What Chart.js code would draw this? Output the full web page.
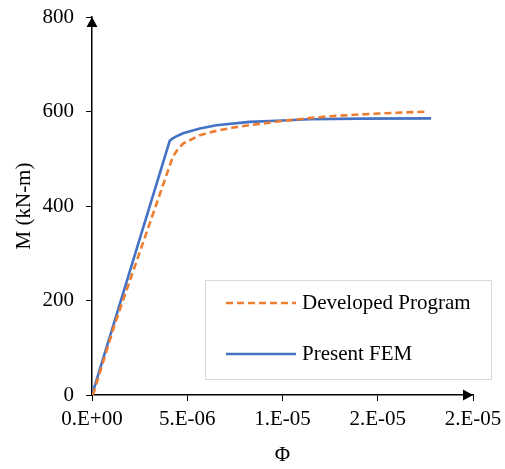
<!DOCTYPE html>
<html>
<head>
<meta charset="utf-8">
<script src="https://cdn.jsdelivr.net/npm/chart.js@4.4.0/dist/chart.umd.min.js"></script>
<style>
  html, body { margin: 0; padding: 0; background: #fff; }
  #wrap { width: 505px; height: 469px; }
</style>
</head>
<body>
<div id="wrap"><canvas id="mphi" width="505" height="469"></canvas></div>
<script>
// DATA
var xTickLabels = ['0.E+00', '5.E-06', '1.E-05', '2.E-05', '2.E-05'];
var yTicks = [0, 200, 400, 600, 800];

var devPhi = [0.05e-6, 1.18e-6, 4.24e-6, 4.5e-6, 4.78e-6, 5.66e-6, 6.53e-6, 7.4e-6, 8.28e-6, 1.0e-5, 1.14e-5, 1.25e-5, 1.42e-5, 1.6e-5, 1.756e-5];
var devM   = [0, 148, 504, 520, 532, 550, 559, 566, 571, 580, 586, 590, 594, 597.5, 599.5];

var femPhi = [0, 4.08e-6, 4.2e-6, 4.4e-6, 4.78e-6, 5.66e-6, 6.53e-6, 8.28e-6, 1.0e-5, 1.14e-5, 1.4e-5, 1.78e-5];
var femM   = [0, 538, 542, 547, 554, 564, 571, 578, 581, 583.5, 585, 585.5];

function toPoints(xs, ys){
    return xs.map(function(x, i){ return {x: x, y: ys[i]}; });
}

var FONT = "'Liberation Serif', 'Times New Roman', serif";

// ARROW HEADS ON AXES
var axisArrows = {
    id: 'axisArrows',
    afterDraw: function(chart){
        var ctx = chart.ctx, a = chart.chartArea;
        ctx.save();
        ctx.fillStyle = '#000';
        ctx.beginPath();
        ctx.moveTo(a.left, a.top);
        ctx.lineTo(a.left - 5.5, a.top + 10);
        ctx.lineTo(a.left + 5.5, a.top + 10);
        ctx.closePath();
        ctx.fill();
        ctx.beginPath();
        ctx.moveTo(a.right, a.bottom);
        ctx.lineTo(a.right - 10, a.bottom - 5.5);
        ctx.lineTo(a.right - 10, a.bottom + 5.5);
        ctx.closePath();
        ctx.fill();
        ctx.restore();
    }
};

// LEGEND BOX INSIDE THE PLOT
var boxLegend = {
    id: 'boxLegend',
    afterDraw: function(chart){
        var ctx = chart.ctx;
        var bx = 205, by = 280, bw = 286, bh = 99;
        ctx.save();
        ctx.fillStyle = '#fff';
        ctx.fillRect(bx, by, bw, bh);
        ctx.strokeStyle = '#d9d9d9';
        ctx.lineWidth = 1;
        ctx.strokeRect(bx + 0.5, by + 0.5, bw, bh);
        var rows = [303, 354];
        chart.data.datasets.forEach(function(ds, i){
            var y = rows[i];
            ctx.strokeStyle = ds.borderColor;
            ctx.lineWidth = ds.borderWidth;
            ctx.setLineDash(ds.borderDash || []);
            ctx.beginPath();
            ctx.moveTo(226, y);
            ctx.lineTo(296, y);
            ctx.stroke();
            ctx.setLineDash([]);
            ctx.fillStyle = '#000';
            ctx.font = '21px ' + FONT;
            ctx.textBaseline = 'middle';
            ctx.textAlign = 'left';
            ctx.fillText(ds.label, 302, y);
        });
        ctx.restore();
    }
};

const ctx = document.getElementById('mphi').getContext('2d');
new Chart(ctx, {
    type: 'line',
    data: {
        datasets: [{
            label: 'Developed Program',
            data: toPoints(devPhi, devM),
            borderColor: '#ED7D31',
            borderWidth: 2.6,
            borderDash: [7, 4],
            pointRadius: 0,
            tension: 0,
            fill: false
        }, {
            label: 'Present FEM',
            data: toPoints(femPhi, femM),
            borderColor: '#4472C4',
            borderWidth: 2.6,
            pointRadius: 0,
            tension: 0,
            fill: false
        }]
    },
    options: {
        responsive: false,
        animation: false,
        layout: { padding: { top: 17, right: 32, left: 0, bottom: 0 } },
        plugins: { legend: { display: false }, tooltip: { enabled: false } },
        scales: {
            x: {
                type: 'linear',
                min: 0,
                max: 2e-5,
                afterBuildTicks: function(scale){
                    scale.ticks = xTickLabels.map(function(l, i){ return {value: i * 5e-6}; });
                },
                afterFit: function(scale){
                    scale.height = 74;
                    scale.paddingLeft = 0;
                    scale.paddingRight = 0;
                },
                grid: { drawOnChartArea: false, drawTicks: true, tickLength: 6, color: '#000', lineWidth: 1 },
                border: { display: true, color: '#000', width: 1.5 },
                ticks: {
                    padding: 6,
                    maxRotation: 0,
                    autoSkip: false,
                    color: '#000',
                    font: { family: FONT, size: 21 },
                    callback: function(v, i){ return xTickLabels[i]; }
                },
                title: { display: true, text: 'Φ', color: '#000', padding: { top: 0, bottom: 1 }, font: { family: FONT, size: 21 } }
            },
            y: {
                min: 0,
                max: 800,
                afterBuildTicks: function(scale){
                    scale.ticks = yTicks.map(function(v){ return {value: v}; });
                },
                afterFit: function(scale){
                    scale.width = 92;
                    scale.paddingTop = 0;
                    scale.paddingBottom = 0;
                },
                grid: { drawOnChartArea: false, drawTicks: true, tickLength: 6, color: '#000', lineWidth: 1 },
                border: { display: true, color: '#000', width: 1.5 },
                ticks: {
                    padding: 12,
                    color: '#000',
                    font: { family: FONT, size: 21 },
                    callback: function(v){ return String(v); }
                },
                title: { display: true, text: 'M (kN-m)', color: '#000', padding: { top: 12, bottom: 0 }, font: { family: FONT, size: 21 } }
            }
        }
    },
    plugins: [axisArrows, boxLegend]
});
</script>
</body>
</html>
